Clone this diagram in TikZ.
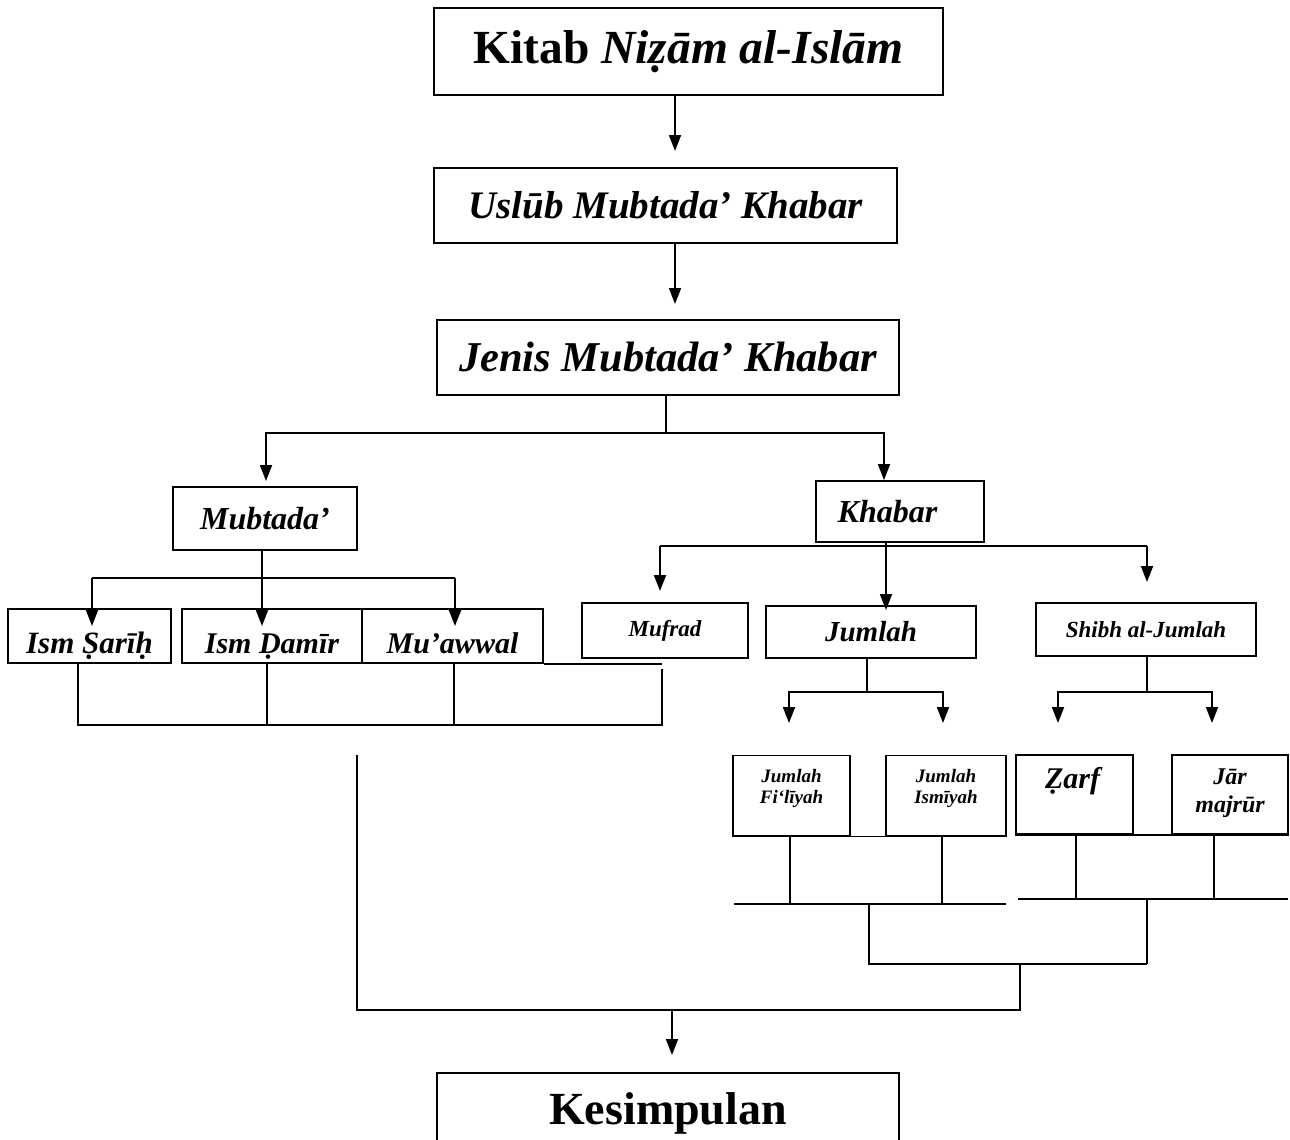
\documentclass[tikz,border=0pt]{standalone}
\usepackage{fontspec}
\setmainfont{Liberation Serif}
\usetikzlibrary{arrows.meta}
\newcommand{\fsz}[1]{\fontsize{#1}{#1}\selectfont}
\begin{document}
\begin{tikzpicture}[x=1pt,y=-1pt,line width=1.8pt,
 box/.style={draw,line width=1.8pt,inner sep=0pt,font=\bfseries\itshape},
 arr/.style={-{Triangle[length=16pt,width=12pt]},line width=1.8pt},
 lbl/.style={align=center,anchor=north,inner sep=0pt}]
\useasboundingbox (0,0) rectangle (1290,1140);
% main chain
\node[box,minimum width=509pt,minimum height=87pt] (b1) at (688.5,51.5) {\fsz{47.5}\upshape Kitab \itshape Niẓām al-Islām};
\node[box,minimum width=463pt,minimum height=75pt] (b2) at (665.5,205.5) {\fsz{39}Uslūb Mubtada’ Khabar};
\node[box,minimum width=462pt,minimum height=75pt] (b3) at (668,357.5) {\fsz{42.5}Jenis Mubtada’ Khabar};
\node[box,minimum width=184pt,minimum height=63pt] (mub) at (265,518.5) {\fsz{32}Mubtada’};
\node[box,minimum width=168pt,minimum height=61pt] (kha) at (900,511.5) {\fsz{32}Khabar\kern25pt};
% mubtada children
\begin{scope}[every node/.append style={text height=34pt,text depth=0pt,minimum height=54pt}]
\node[box,minimum width=163pt] (isr) at (89.5,636) {\fsz{31}Ism Ṣarīḥ};
\node[box,minimum width=180pt] (isd) at (272,636) {\fsz{30}Ism Ḍamīr};
\node[box,minimum width=181pt] (mua) at (452.5,636) {\fsz{30}Mu’awwal};
\end{scope}
% khabar children
\node[box,minimum width=166pt,minimum height=55pt] (muf) at (665,630.5) {\fsz{23}Mufrad};
\node[box,minimum width=210pt,minimum height=52pt] (jum) at (871,632) {\fsz{29}Jumlah};
\node[box,minimum width=220pt,minimum height=53pt] (shi) at (1146,629.5) {\fsz{23}Shibh al-Jumlah};
% grandchildren
\node[box,minimum width=117pt,minimum height=80pt,
  label={[lbl,yshift=-14pt,font=\bfseries\itshape\fontsize{19}{20.5}\selectfont]north:{Jumlah\\Fi‘līyah}}] (jf) at (791.5,795.5) {};
\node[box,minimum width=120pt,minimum height=80pt,
  label={[lbl,yshift=-14pt,font=\bfseries\itshape\fontsize{19}{20.5}\selectfont]north:{Jumlah\\Ismīyah}}] (ji) at (946,795.5) {};
\node[box,minimum width=117pt,minimum height=79pt,
  label={[lbl,yshift=-12pt,xshift=-2pt,font=\bfseries\itshape\fsz{30}]north:{Ẓarf}}] (zar) at (1074.5,794.5) {};
\node[box,minimum width=116pt,minimum height=79pt,
  label={[lbl,yshift=-14pt,font=\bfseries\itshape\fontsize{24}{28}\selectfont]north:{Jār\\majrūr}}] (jar) at (1230,794.5) {};
% conclusion (its lower edge lies below the page)
\node[box,minimum width=462pt,minimum height=72pt,font=\bfseries,text height=30pt,text depth=0pt] (kes) at (668,1109) {\fsz{46}Kesimpulan};

% connectors main chain
\draw[arr] (675,0 |- b1.south) -- (675,151);
\draw[arr] (675,0 |- b2.south) -- (675,304);
\draw (666,0 |- b3.south) -- (666,433);
\draw[arr] (666,433) -| (266,481);
\draw[arr] (666,433) -| (884,0 |- kha.north);
% mubtada
\draw (262,0 |- mub.south) -- (262,578);
\draw (92,578) -- (455,578);
\draw[arr] (92,578) -- (92,626);
\draw[arr] (262,578) -- (262,626);
\draw[arr] (455,578) -- (455,626);
\draw (mua.south east) -- (662,0 |- mua.south);
\draw (78,0 |- isr.south) -- (78,725) -- (662,725) -- (662,669);
\draw (267,0 |- isd.south) -- (267,725);
\draw (454,0 |- mua.south) -- (454,725);
% khabar
\draw (886,0 |- kha.south) -- (886,546);
\draw (660,546) -- (1147,546);
\draw[arr] (660,546) -- (660,591);
\draw[arr] (886,546) -- (886,610);
\draw[arr] (1147,546) -- (1147,582);
% jumlah
\draw (867,0 |- jum.south) -- (867,692);
\draw[arr] (867,692) -| (789,723);
\draw[arr] (867,692) -| (943,723);
% shibh
\draw (1147,0 |- shi.south) -- (1147,692);
\draw[arr] (1147,692) -| (1058,723);
\draw[arr] (1147,692) -| (1212,723);
% bottom lines
\draw (jf.south west) -- (ji.south east);
\draw (790,0 |- jf.south) -- (790,904);
\draw (942,0 |- ji.south) -- (942,904);
\draw (734,904) -- (1006,904);
\draw (869,904) -- (869,964) -- (1147,964);
\draw (zar.south west) -- (jar.south east);
\draw (1076,0 |- zar.south) -- (1076,899);
\draw (1214,0 |- jar.south) -- (1214,899);
\draw (1018,899) -- (1288,899);
\draw (1147,899) -- (1147,964);
\draw (1020,964) -- (1020,1010) -- (357,1010) -- (357,755);
\draw[arr] (672,1010) -- (672,1055);
\end{tikzpicture}
\end{document}
